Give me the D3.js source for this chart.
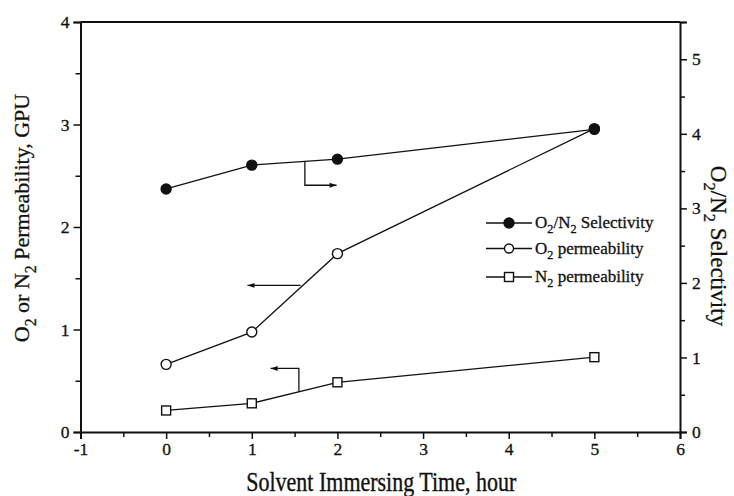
<!DOCTYPE html>
<html>
<head>
<meta charset="utf-8">
<script src="https://cdn.jsdelivr.net/npm/d3@7/dist/d3.min.js"></script>
<style>
  html, body { margin: 0; padding: 0; background: #fff; }
  svg { display: block; font-family: "Liberation Serif", "Times New Roman", serif; }
  svg text { stroke: #111; stroke-width: 0.3px; }
</style>
</head>
<body>
<svg id="chart" width="734" height="496"></svg>
<script>
// Immersion time (hours)
const times = [0, 1, 2, 5];
// O2/N2 selectivity (right axis)
const selectivity = [3.26, 3.58, 3.66, 4.06];
// O2 permeability, GPU (left axis)
const o2Perm = [0.66, 0.975, 1.74, 2.96];
// N2 permeability, GPU (left axis)
const n2Perm = [0.21, 0.28, 0.485, 0.73];

const xTicks = [-1, 0, 1, 2, 3, 4, 5, 6];
const yLeftTicks = [0, 1, 2, 3, 4];
const yRightTicks = [0, 1, 2, 3, 4, 5];

const svg = d3.select("#chart");
const m = { left: 80.5, right: 680, top: 22, bottom: 432 };
const serif = "Liberation Serif, Times New Roman, serif";

const x = d3.scaleLinear().domain([-1, 6]).range([m.left, m.right]);
const yL = d3.scaleLinear().domain([0, 4]).range([m.bottom, m.top]);
const yR = d3.scaleLinear().domain([0, 5.5]).range([m.bottom, m.top]);

const ink = "#111";
const fmt = d => String(d);
const tickFont = 17.5;

// frame: top border
svg.append("line").attr("x1", m.left).attr("x2", m.right)
  .attr("y1", m.top).attr("y2", m.top)
  .attr("stroke", ink).attr("stroke-width", 2);

function styleAxis(g) {
  g.attr("font-family", serif).attr("font-size", tickFont);
  g.select(".domain").attr("stroke", ink).attr("stroke-width", 2);
  g.selectAll(".tick line").attr("stroke", ink).attr("stroke-width", 1.5);
  g.selectAll(".tick text").attr("fill", ink)
    .style("font-family", serif).style("font-size", tickFont + "px");
}

// minor ticks every 0.5
const minor = (lo, hi) => d3.range(lo, hi + 1e-9, 0.5).filter(v => Math.abs(v - Math.round(v)) > 1e-9);

// bottom axis
const gx = svg.append("g").attr("transform", `translate(0,${m.bottom})`)
  .call(d3.axisBottom(x).tickValues(xTicks).tickFormat(fmt).tickSize(7).tickPadding(4));
styleAxis(gx);
svg.append("g").attr("transform", `translate(0,${m.bottom})`)
  .call(d3.axisBottom(x).tickValues(minor(-1, 6)).tickFormat("").tickSize(5))
  .call(g => g.select(".domain").remove())
  .selectAll("line").attr("stroke", ink).attr("stroke-width", 1.5);

// left axis
const gyl = svg.append("g").attr("transform", `translate(${m.left},0)`)
  .call(d3.axisLeft(yL).tickValues(yLeftTicks).tickFormat(fmt).tickSize(7).tickPadding(4));
styleAxis(gyl);
svg.append("g").attr("transform", `translate(${m.left},0)`)
  .call(d3.axisLeft(yL).tickValues(minor(0, 4)).tickFormat("").tickSize(5))
  .call(g => g.select(".domain").remove())
  .selectAll("line").attr("stroke", ink).attr("stroke-width", 1.5);

// right axis
const gyr = svg.append("g").attr("transform", `translate(${m.right},0)`)
  .call(d3.axisRight(yR).tickValues(yRightTicks).tickFormat(fmt).tickSize(7).tickPadding(5));
styleAxis(gyr);
svg.append("g").attr("transform", `translate(${m.right},0)`)
  .call(d3.axisRight(yR).tickValues(minor(0, 5.5)).tickFormat("").tickSize(5))
  .call(g => g.select(".domain").remove())
  .selectAll("line").attr("stroke", ink).attr("stroke-width", 1.5);

// series lines
function drawLine(vals, yScale) {
  const line = d3.line().x((d, i) => x(times[i])).y(d => yScale(d));
  svg.append("path").datum(vals).attr("d", line)
    .attr("fill", "none").attr("stroke", ink).attr("stroke-width", 1.3);
}
drawLine(selectivity, yR);
drawLine(o2Perm, yL);
drawLine(n2Perm, yL);

// markers
function circles(vals, yScale, filled) {
  svg.append("g").selectAll("circle").data(vals).join("circle")
    .attr("cx", (d, i) => x(times[i])).attr("cy", d => yScale(d)).attr("r", 5)
    .attr("fill", filled ? ink : "#fff").attr("stroke", ink).attr("stroke-width", 1.4);
}
function squares(vals, yScale) {
  const s = 9;
  svg.append("g").selectAll("rect").data(vals).join("rect")
    .attr("x", (d, i) => x(times[i]) - s / 2).attr("y", d => yScale(d) - s / 2)
    .attr("width", s).attr("height", s)
    .attr("fill", "#fff").attr("stroke", ink).attr("stroke-width", 1.4);
}
squares(n2Perm, yL);
circles(o2Perm, yL, false);
circles(selectivity, yR, true);

// arrow markers
const defs = svg.append("defs");
defs.append("marker").attr("id", "arrow").attr("viewBox", "0 0 10 10")
  .attr("refX", 10).attr("refY", 5).attr("markerWidth", 10).attr("markerHeight", 7)
  .attr("markerUnits", "userSpaceOnUse").attr("orient", "auto")
  .append("path").attr("d", "M0,1.5 L10,5 L0,8.5 Z").attr("fill", ink);

function arrow(points) {
  svg.append("path")
    .attr("d", d3.line()(points))
    .attr("fill", "none").attr("stroke", ink).attr("stroke-width", 1.3)
    .attr("marker-end", "url(#arrow)");
}
// selectivity -> right axis
const sAt = t => selectivity[1] + (selectivity[2] - selectivity[1]) * (t - 1);
arrow([[x(1.62), yR(sAt(1.62))], [x(1.62), yR(3.31)], [x(1.99), yR(3.31)]]);
// O2 permeability -> left axis
arrow([[x(1.57), yL(1.43)], [x(0.95), yL(1.43)]]);
// N2 permeability -> left axis
const nAt = t => n2Perm[1] + (n2Perm[2] - n2Perm[1]) * (t - 1);
arrow([[x(1.55), yL(nAt(1.55))], [x(1.55), yL(0.62)], [x(1.22), yL(0.62)]]);

// text with subscripts: parts = [[text, isSub], ...]
function richText(g, parts, size) {
  const t = g.append("text").attr("fill", ink).style("font-size", size + "px");
  let sub = false;
  parts.forEach(([s, isSub]) => {
    const ts = t.append("tspan").text(s);
    if (isSub && !sub) ts.attr("dy", size * 0.32).style("font-size", (size * 0.72) + "px");
    else if (!isSub && sub) ts.attr("dy", -size * 0.32);
    else if (isSub) ts.style("font-size", (size * 0.72) + "px");
    sub = isSub;
  });
  return t;
}

// legend
const legendRows = [
  { y: 223, parts: [["O", 0], ["2", 1], ["/N", 0], ["2", 1], [" Selectivity", 0]], kind: "filled" },
  { y: 248.5, parts: [["O", 0], ["2", 1], [" permeability", 0]], kind: "open" },
  { y: 277, parts: [["N", 0], ["2", 1], [" permeability", 0]], kind: "square" }
];
legendRows.forEach(r => {
  const g = svg.append("g");
  g.append("line").attr("x1", 486).attr("x2", 532).attr("y1", r.y).attr("y2", r.y)
    .attr("stroke", ink).attr("stroke-width", 1.3);
  if (r.kind === "square") {
    g.append("rect").attr("x", 509 - 4.5).attr("y", r.y - 4.5).attr("width", 9).attr("height", 9)
      .attr("fill", "#fff").attr("stroke", ink).attr("stroke-width", 1.4);
  } else {
    g.append("circle").attr("cx", 509).attr("cy", r.y).attr("r", r.kind === "filled" ? 5 : 4.5)
      .attr("fill", r.kind === "filled" ? ink : "#fff").attr("stroke", ink).attr("stroke-width", 1.4);
  }
  richText(g, r.parts, 17).attr("x", 535).attr("y", r.y + 5);
});

// axis titles
svg.append("text")
  .attr("transform", `translate(${(m.left + m.right) / 2 + 1},491) scale(1,1.2)`)
  .attr("text-anchor", "middle").attr("fill", ink).style("font-size", "22px")
  .text("Solvent Immersing Time, hour");

const lt = svg.append("g").attr("transform", `translate(29,218) rotate(-90)`);
richText(lt, [["O", 0], ["2", 1], [" or N", 0], ["2", 1], [" Permeability, GPU", 0]], 22)
  .attr("text-anchor", "middle");

const rt = svg.append("g").attr("transform", `translate(711,246) rotate(90)`);
richText(rt, [["O", 0], ["2", 1], ["/N", 0], ["2", 1], [" Selectivity", 0]], 23)
  .attr("text-anchor", "middle");
</script>
</body>
</html>
